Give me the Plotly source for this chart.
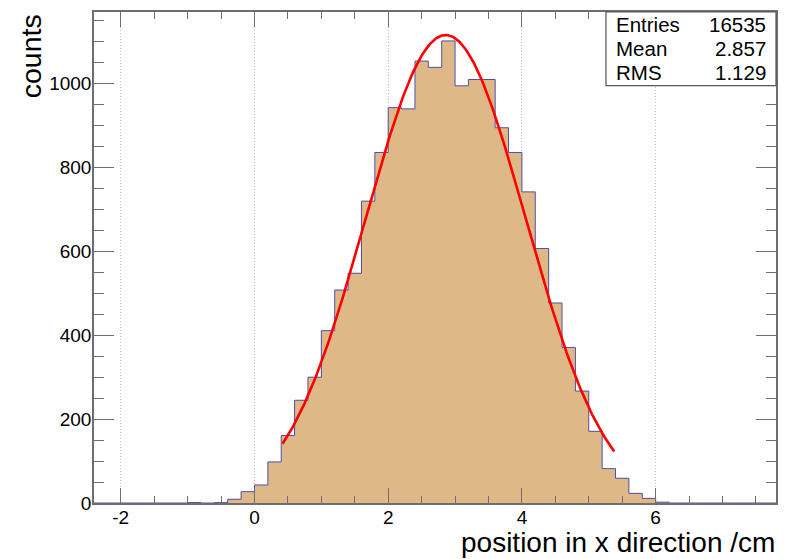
import numpy as np
import plotly.graph_objects as go

# Histogram binning: 51 bins of width 0.2 from -2.4 to 7.8
bin_low = -2.4
bin_width = 0.2
counts = [0, 0, 0, 0, 0, 0, 0,
          1, 0, 1, 9, 27,
          43, 98, 161, 245, 300,
          411, 508, 548, 720, 836,
          943, 940, 1054, 1039, 1102,
          995, 1010, 1010, 895, 836,
          742, 607, 477, 371, 267,
          171, 82, 59, 23, 11,
          2, 0, 0, 0, 0, 0, 0, 0, 0]

# Gaussian fit result and fit range
fit_amp = 1116.0
fit_mean = 2.86
fit_sigma = 1.20
fit_range = (0.42, 5.38)

stats_labels = ["Entries", "Mean", "RMS"]
stats_values = ["16535", "2.857", "1.129"]

x_ticks = [-2, 0, 2, 4, 6]
x_tick_text = ["-2", "0", "2", "4", "6"]
y_ticks = [0, 200, 400, 600, 800, 1000]

n = len(counts)
edges = bin_low + bin_width * np.arange(n + 1)
centers = edges[:-1] + bin_width / 2

fit_x = np.linspace(fit_range[0], fit_range[1], 300)
fit_y = fit_amp * np.exp(-0.5 * ((fit_x - fit_mean) / fit_sigma) ** 2)

FONT = "Liberation Sans, Arial, Helvetica, sans-serif"
FRAME = "#6e6e6e"

fig = go.Figure()
fig.add_trace(go.Bar(x=centers, y=counts, width=bin_width,
                     marker=dict(color="#deb887", line=dict(width=0)),
                     hoverinfo="skip", showlegend=False))
fig.add_trace(go.Scatter(x=edges, y=counts + [counts[-1]], mode="lines",
                         line=dict(color="#4f4fa8", width=1, shape="hv"),
                         hoverinfo="skip", showlegend=False))
fig.add_trace(go.Scatter(x=fit_x, y=fit_y, mode="lines",
                         line=dict(color="#ff0000", width=2.6),
                         hoverinfo="skip", showlegend=False))

fig.update_layout(
    width=788, height=559,
    margin=dict(l=94, r=12, t=10, b=56),
    paper_bgcolor="white", plot_bgcolor="white",
    bargap=0,
    font=dict(family=FONT, size=19, color="black"),
    xaxis=dict(range=[edges[0], edges[-1]], tickmode="array", tickvals=x_ticks,
               ticktext=x_tick_text, ticklabelstandoff=-4,
               ticks="inside", ticklen=15, tickcolor=FRAME, tickwidth=1,
               showline=True, linecolor=FRAME, linewidth=1.5, mirror="allticks",
               showgrid=True, gridcolor="#bdbdbd", griddash="1px,2px", gridwidth=1,
               zeroline=False,
               minor=dict(dtick=0.5, tick0=0, ticks="inside", ticklen=7,
                          tickcolor=FRAME, showgrid=False),
               tickfont=dict(size=19)),
    yaxis=dict(range=[0, 1171], tickmode="array", tickvals=y_ticks,
               ticks="inside", ticklen=20, tickcolor=FRAME, tickwidth=1,
               showline=True, linecolor=FRAME, linewidth=1.5, mirror="allticks",
               showgrid=False, zeroline=False, ticklabelstandoff=-3,
               minor=dict(dtick=50, tick0=0, ticks="inside", ticklen=10,
                          tickcolor=FRAME, showgrid=False),
               tickfont=dict(size=19)),
)

# Axis titles placed at the axis ends
fig.add_annotation(text="counts", xref="paper", yref="paper", x=-0.092, y=1.0,
                   xanchor="center", yanchor="top", textangle=-90, showarrow=False,
                   font=dict(size=28.5, family=FONT))
fig.add_annotation(text="position in x direction /cm", xref="paper", yref="paper",
                   x=1.0, y=-0.1136, xanchor="right", yanchor="bottom", showarrow=False,
                   borderpad=0, font=dict(size=28, family=FONT))

# Statistics box
fig.add_shape(type="rect", xref="paper", yref="paper", x0=0.7507, x1=1.0, y0=0.85, y1=1.0,
              line=dict(color="#555555", width=1.2), fillcolor="white", layer="above")
row_y = [0.9736, 0.925, 0.876]
for lab, val, yy in zip(stats_labels, stats_values, row_y):
    fig.add_annotation(text=lab, xref="paper", yref="paper", x=0.7625, y=yy,
                       xanchor="left", yanchor="middle", showarrow=False,
                       font=dict(size=20.5, family=FONT))
    fig.add_annotation(text=val, xref="paper", yref="paper", x=0.988, y=yy,
                       xanchor="right", yanchor="middle", showarrow=False,
                       font=dict(size=20.5, family=FONT))

fig.write_html("out.html")
